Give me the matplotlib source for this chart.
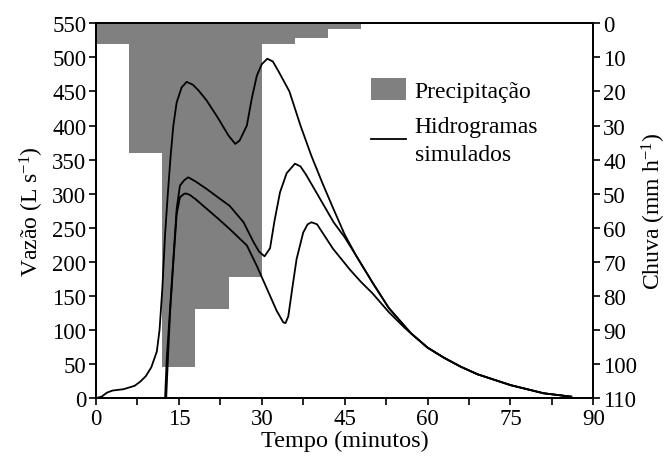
import matplotlib
matplotlib.use("Agg")
import matplotlib.pyplot as plt
from matplotlib.patches import Patch
from matplotlib.lines import Line2D

plt.rcParams["font.family"] = ["Liberation Serif", "DejaVu Serif"]
plt.rcParams["mathtext.fontset"] = "custom"
plt.rcParams["mathtext.rm"] = "Liberation Serif"
plt.rcParams["mathtext.default"] = "regular"

# precipitation blocks (start minute, mm/h)
rain_start = [0, 6, 12, 18, 24, 30, 36, 42]
rain_mmh = [6.2, 38, 101, 84, 74.5, 6.2, 4.3, 1.6]

# simulated hydrographs (minutes, L/s)
a_t = [0, 1, 2, 3, 5, 7, 8, 9, 10, 11, 11.5, 12, 12.5, 13, 13.5, 14, 14.6, 15.5,
       16.4, 17.5, 18.5, 20, 22, 24, 25.2, 26, 27.3, 28.2, 29.1, 30, 31, 32, 33,
       35, 37, 39, 41, 43, 45, 47, 50, 53, 57]
a_q = [0, 2, 8, 11, 13, 18, 24, 32, 45, 68, 100, 160, 240, 300, 355, 400, 434, 456,
       464, 460, 452, 437, 412, 385, 373, 378, 400, 440, 473, 490, 498, 494, 480,
       450, 400, 355, 315, 277, 240, 210, 170, 132, 95]

b_t = [12.5, 12.8, 13.4, 14, 14.6, 15.2, 16, 16.7, 18, 20, 22, 24.2, 26.7, 28.5,
       29.5, 30.5, 31.5, 32.3, 33.3, 34.5, 36, 37, 38, 40, 43, 45, 47, 50, 53, 57]
b_q = [0, 57, 131, 204, 278, 312, 320, 324, 318, 307, 295, 282, 258, 229,
       215, 208, 220, 260, 302, 330, 344, 340, 328, 300, 258, 236, 210, 170, 132, 95]

c_t = [12.7, 13, 13.4, 14, 14.6, 15.2, 16, 16.4, 17, 18, 20, 22, 24.2, 27.3, 29.1,
       30.3, 31.5, 32.7, 33.9, 34.3, 34.8, 35.5, 36.3, 37.5, 38.3, 39, 40, 42.9,
       46, 48, 50, 53, 56]
c_q = [0, 55, 125, 200, 270, 295, 300, 300, 298, 292, 278, 264, 248, 224, 194,
       172, 150, 128, 111, 110, 120, 160, 204, 243, 255, 258, 255, 219,
       188, 170, 154, 126, 102]

# recession shared by all three curves
tail_t = [60, 63, 66, 69, 72, 75, 78, 81, 84, 86]
tail_q = [74, 59, 46, 35, 27, 19, 13, 7, 4, 2]

x_ticks = [0, 15, 30, 45, 60, 75, 90]

fig = plt.figure(figsize=(6.69, 4.64), dpi=100)
ax = fig.add_axes([0.1435, 0.140, 0.7434, 0.8076])
ax2 = ax.twinx()

ax2.bar(rain_start, rain_mmh, width=6, align="edge", color="#808080",
        edgecolor="none", linewidth=0)
ax2.set_ylim(110, 0)
ax2.set_yticks(range(0, 111, 10))

for t, q in [(a_t, a_q), (b_t, b_q), (c_t, c_q)]:
    ax.plot(t + tail_t, q + tail_q, color="black", lw=1.3)

ax.set_zorder(ax2.get_zorder() + 1)
ax.patch.set_visible(False)

ax.set_xlim(0, 90)
ax.set_ylim(0, 550)
ax.set_xticks(x_ticks)
ax.set_xticks([7.5 + 15 * i for i in range(6)], minor=True)
ax.set_yticks(range(0, 551, 50))

for a in (ax, ax2):
    for s in a.spines.values():
        s.set_linewidth(1.3)
    a.tick_params(which="both", direction="out", length=5, width=1.2,
                  labelsize=16.5, pad=2)

ax.set_xlabel("Tempo (minutos)", fontsize=17.5, labelpad=1)
ax.set_ylabel("Vazão (L s$^{-1}$)", fontsize=17, labelpad=4)
ax2.set_ylabel("Chuva (mm h$^{-1}$)", fontsize=17, labelpad=2)

handles = [Patch(facecolor="#808080", edgecolor="none"),
           Line2D([], [], color="black", lw=1.3)]
leg = ax.legend(handles, ["Precipitação", "Hidrogramas\nsimulados"],
                loc="upper left", bbox_to_anchor=(0.534, 0.88), frameon=False,
                fontsize=17, handlelength=1.5, handleheight=1.1,
                handletextpad=0.35, labelspacing=0.6, borderaxespad=0)
leg.get_texts()[1].set_linespacing(1.45)

fig.savefig("out.png", dpi=100)
